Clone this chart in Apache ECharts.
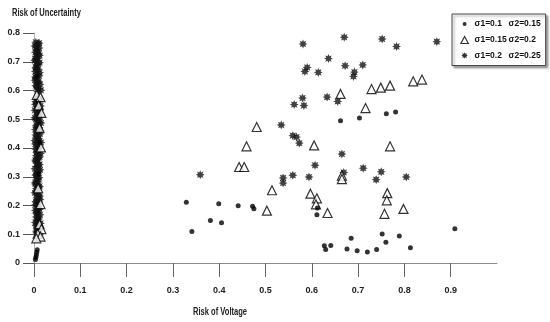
<!DOCTYPE html>
<html>
<head>
<meta charset="utf-8">
<script src="https://cdn.jsdelivr.net/npm/echarts@6/dist/echarts.min.js"></script>
<style>
html, body { margin: 0; padding: 0; background: #fff; }
#chart { width: 550px; height: 322px; }
</style>
</head>
<body>
<div id="chart"></div>
<script>
// legend labels: sigma1 / sigma2 pairs
const sigma1 = ['0.1', '0.15', '0.2']
const sigma2 = ['0.15', '0.2', '0.25']
const seriesNames = sigma1.map((s, i) => 'σ1=' + s + ' σ2=' + sigma2[i])

const xTickValues = [0, 0.1, 0.2, 0.3, 0.4, 0.5, 0.6, 0.7, 0.8, 0.9]
const yTickValues = [0, 0.1, 0.2, 0.3, 0.4, 0.5, 0.6, 0.7, 0.8]

// σ1=0.1 σ2=0.15 (dots)
const dotPoints = [
  [0.662, 0.495], [0.703, 0.504], [0.761, 0.519], [0.781, 0.525],
  [0.612, 0.191], [0.611, 0.168], [0.752, 0.101], [0.760, 0.072],
  [0.789, 0.094], [0.685, 0.086], [0.627, 0.060], [0.630, 0.047],
  [0.641, 0.061], [0.676, 0.049], [0.698, 0.043], [0.720, 0.038],
  [0.740, 0.047], [0.813, 0.053], [0.909, 0.119], [0.329, 0.211],
  [0.399, 0.206], [0.441, 0.199], [0.472, 0.197], [0.475, 0.189],
  [0.381, 0.148], [0.405, 0.140], [0.341, 0.110]
]
const dotColumn = [
  [0.007, 0.046], [0.006, 0.037], [0.005, 0.028], [0.004, 0.020], [0.003, 0.012],
  [0.010, 0.310], [0.006, 0.650], [0.012, 0.420]
]

// σ1=0.15 σ2=0.2 (triangles)
const trianglePoints = [
  [0.662, 0.588], [0.729, 0.605], [0.749, 0.610], [0.769, 0.617],
  [0.819, 0.632], [0.838, 0.638], [0.716, 0.539], [0.605, 0.409],
  [0.769, 0.406], [0.665, 0.304], [0.665, 0.292], [0.597, 0.241],
  [0.611, 0.225], [0.609, 0.204], [0.634, 0.174], [0.763, 0.243],
  [0.762, 0.218], [0.757, 0.171], [0.798, 0.188], [0.481, 0.473],
  [0.459, 0.406], [0.443, 0.334], [0.454, 0.334], [0.514, 0.253],
  [0.503, 0.182]
]
const triangleColumn = [
  [0.006, 0.585], [0.014, 0.577], [0.010, 0.548], [0.016, 0.522], [0.012, 0.470],
  [0.015, 0.402], [0.009, 0.260], [0.014, 0.205], [0.012, 0.135], [0.016, 0.118],
  [0.008, 0.102], [0.014, 0.092], [0.005, 0.086]
]

// σ1=0.2 σ2=0.25 (stars)
const starPoints = [
  [0.581, 0.762], [0.670, 0.785], [0.752, 0.779], [0.783, 0.753],
  [0.870, 0.770], [0.636, 0.711], [0.590, 0.680], [0.585, 0.666],
  [0.614, 0.663], [0.672, 0.686], [0.710, 0.689], [0.692, 0.664],
  [0.690, 0.649], [0.580, 0.574], [0.583, 0.548], [0.633, 0.577],
  [0.656, 0.562], [0.562, 0.551], [0.534, 0.480], [0.559, 0.443],
  [0.567, 0.438], [0.573, 0.417], [0.665, 0.379], [0.607, 0.340],
  [0.594, 0.299], [0.669, 0.315], [0.711, 0.330], [0.750, 0.317],
  [0.739, 0.290], [0.804, 0.299], [0.359, 0.307], [0.538, 0.296],
  [0.538, 0.278], [0.559, 0.305]
]
const starColumn = [
  [0.004, 0.768], [0.009, 0.762], [0.002, 0.755], [0.011, 0.748], [0.006, 0.741],
  [0.003, 0.733], [0.010, 0.727], [0.005, 0.719], [0.008, 0.711], [0.002, 0.704],
  [0.012, 0.697], [0.006, 0.689], [0.004, 0.681], [0.009, 0.674], [0.003, 0.666],
  [0.007, 0.658], [0.011, 0.651], [0.005, 0.643], [0.002, 0.636], [0.008, 0.628],
  [0.013, 0.621], [0.006, 0.613], [0.010, 0.606], [0.015, 0.601], [0.007, 0.575],
  [0.012, 0.568], [0.004, 0.561], [0.009, 0.553], [0.014, 0.546], [0.006, 0.538],
  [0.002, 0.531], [0.011, 0.523], [0.007, 0.516], [0.013, 0.508], [0.004, 0.501],
  [0.009, 0.494], [0.015, 0.487], [0.005, 0.479], [0.011, 0.471], [0.003, 0.464],
  [0.008, 0.456], [0.013, 0.449], [0.006, 0.441], [0.010, 0.433], [0.002, 0.426],
  [0.015, 0.419], [0.007, 0.411], [0.012, 0.403], [0.004, 0.396], [0.009, 0.388],
  [0.014, 0.381], [0.005, 0.373], [0.010, 0.366], [0.003, 0.358], [0.008, 0.350],
  [0.012, 0.343], [0.006, 0.336], [0.002, 0.328], [0.010, 0.320], [0.007, 0.313],
  [0.004, 0.305], [0.011, 0.297], [0.006, 0.290], [0.009, 0.282], [0.003, 0.275],
  [0.012, 0.267], [0.005, 0.259], [0.008, 0.252], [0.002, 0.244], [0.010, 0.237],
  [0.006, 0.229], [0.013, 0.221], [0.004, 0.214], [0.009, 0.206], [0.007, 0.198],
  [0.011, 0.191], [0.003, 0.183], [0.008, 0.176], [0.013, 0.168], [0.005, 0.160],
  [0.010, 0.153], [0.007, 0.145], [0.014, 0.138], [0.004, 0.130], [0.009, 0.122],
  [0.012, 0.115], [0.006, 0.107], [0.010, 0.099], [0.008, 0.092],
  [0.011, 0.765], [0.005, 0.751], [0.008, 0.737], [0.012, 0.722], [0.003, 0.709],
  [0.009, 0.693], [0.005, 0.677], [0.012, 0.662], [0.003, 0.647], [0.010, 0.632],
  [0.004, 0.617], [0.008, 0.597], [0.010, 0.571], [0.003, 0.552], [0.012, 0.535],
  [0.008, 0.519], [0.002, 0.505], [0.011, 0.490], [0.007, 0.475], [0.013, 0.460],
  [0.004, 0.445], [0.009, 0.429], [0.003, 0.414], [0.010, 0.399], [0.006, 0.384],
  [0.012, 0.369], [0.004, 0.354], [0.009, 0.339], [0.013, 0.324], [0.005, 0.309],
  [0.008, 0.294], [0.003, 0.279], [0.010, 0.263], [0.005, 0.248], [0.012, 0.233],
  [0.007, 0.217], [0.003, 0.202], [0.011, 0.187], [0.006, 0.172], [0.009, 0.157],
  [0.003, 0.141], [0.011, 0.126], [0.005, 0.111], [0.012, 0.097]
]

const FONT = "'Liberation Sans', Arial, sans-serif"
const STAR = 'path://M10 0L12.1 4.92L17.07 2.93L15.08 7.9L20 10L15.08 12.1L17.07 17.07L12.1 15.08L10 20L7.9 15.08L2.93 17.07L4.92 12.1L0 10L4.92 7.9L2.93 2.93L7.9 4.92Z'

const chart = echarts.init(document.getElementById('chart'))

chart.setOption({
  animation: false,
  backgroundColor: '#fff',
  textStyle: { fontFamily: FONT },
  // axis titles, squeezed to look like the narrow font of the original
  graphic: [
    {
      type: 'text',
      x: 12,
      y: 8,
      scaleX: 0.72,
      style: {
        text: 'Risk of Uncertainty',
        font: 'bold 10.5px ' + FONT,
        fill: '#222',
        verticalAlign: 'top'
      }
    },
    {
      type: 'text',
      x: 193,
      y: 307,
      scaleX: 0.72,
      style: {
        text: 'Risk of Voltage',
        font: 'bold 10.5px ' + FONT,
        fill: '#222',
        verticalAlign: 'top'
      }
    }
  ],
  grid: {
    left: 34,
    right: 53,
    top: 33,
    bottom: 59
  },
  legend: {
    orient: 'vertical',
    left: 452,
    top: 14,
    padding: [5, 5, 5, 7],
    itemWidth: 10,
    itemHeight: 10,
    itemGap: 6,
    backgroundColor: '#fff',
    borderColor: '#444',
    borderWidth: 1,
    borderRadius: 0,
    shadowColor: 'rgba(0,0,0,0.35)',
    shadowBlur: 2,
    shadowOffsetX: 2,
    shadowOffsetY: 2,
    data: [
      {
        name: seriesNames[0],
        icon: 'path://M0 0M10 10M3 5a2 2 0 1 0 4 0a2 2 0 1 0 -4 0z',
        itemStyle: { color: '#000' }
      },
      {
        name: seriesNames[1],
        icon: 'path://M-1 0M11 10M5 1L9.5 9.5L0.5 9.5Z',
        itemStyle: { color: '#fff', borderColor: '#000', borderWidth: 1.2 }
      },
      {
        name: seriesNames[2],
        icon: 'path://M-5 -5M25 25' + STAR.slice(7),
        itemStyle: { color: '#000' }
      }
    ],
    formatter: name => {
      const parts = name.split(' ')
      return '{a|' + parts[0] + '}{b|' + parts[1] + '}'
    },
    textStyle: {
      fontFamily: FONT,
      fontSize: 8.5,
      fontWeight: 'bold',
      color: '#111',
      rich: {
        a: { width: 34, fontSize: 8.5, fontWeight: 'bold', fontFamily: FONT, color: '#111' },
        b: { fontSize: 8.5, fontWeight: 'bold', fontFamily: FONT, color: '#111' }
      }
    },
    itemStyle: { borderWidth: 0 }
  },
  xAxis: {
    type: 'value',
    min: 0,
    max: 1,
    interval: 0.1,
    splitLine: { show: false },
    axisLine: { show: true, onZero: false, lineStyle: { color: '#8c8c8c', width: 1 } },
    axisTick: {
      show: true,
      length: 14,
      customValues: xTickValues,
      lineStyle: { color: '#666', width: 1 }
    },
    axisLabel: {
      customValues: xTickValues,
      margin: 23,
      fontSize: 9,
      fontWeight: 'bold',
      fontFamily: FONT,
      color: '#222',
      formatter: v => (v === 0 ? '0' : v.toFixed(1))
    }
  },
  yAxis: {
    type: 'value',
    min: 0,
    max: 0.8,
    interval: 0.1,
    splitLine: { show: false },
    axisLine: { show: true, onZero: false, lineStyle: { color: '#b0b0b0', width: 1 } },
    axisTick: {
      show: true,
      length: 11,
      customValues: yTickValues,
      lineStyle: { color: '#555', width: 1 }
    },
    axisLabel: {
      customValues: yTickValues,
      margin: 14,
      fontSize: 9,
      fontWeight: 'bold',
      fontFamily: FONT,
      color: '#222',
      formatter: v => (v === 0 ? '0' : v.toFixed(1))
    }
  },
  series: [
    {
      name: seriesNames[2],
      type: 'scatter',
      z: 2,
      symbol: STAR,
      symbolSize: 9,
      itemStyle: { color: '#111' },
      data: starPoints.concat(starColumn)
    },
    {
      name: seriesNames[1],
      type: 'scatter',
      z: 3,
      symbol: 'triangle',
      symbolSize: [9, 9],
      itemStyle: { color: '#fff', borderColor: '#000', borderWidth: 1.2 },
      data: trianglePoints.concat(triangleColumn)
    },
    {
      name: seriesNames[0],
      type: 'scatter',
      z: 4,
      symbol: 'circle',
      symbolSize: 5,
      itemStyle: { color: '#000' },
      data: dotPoints.concat(dotColumn)
    }
  ]
})
</script>
</body>
</html>
